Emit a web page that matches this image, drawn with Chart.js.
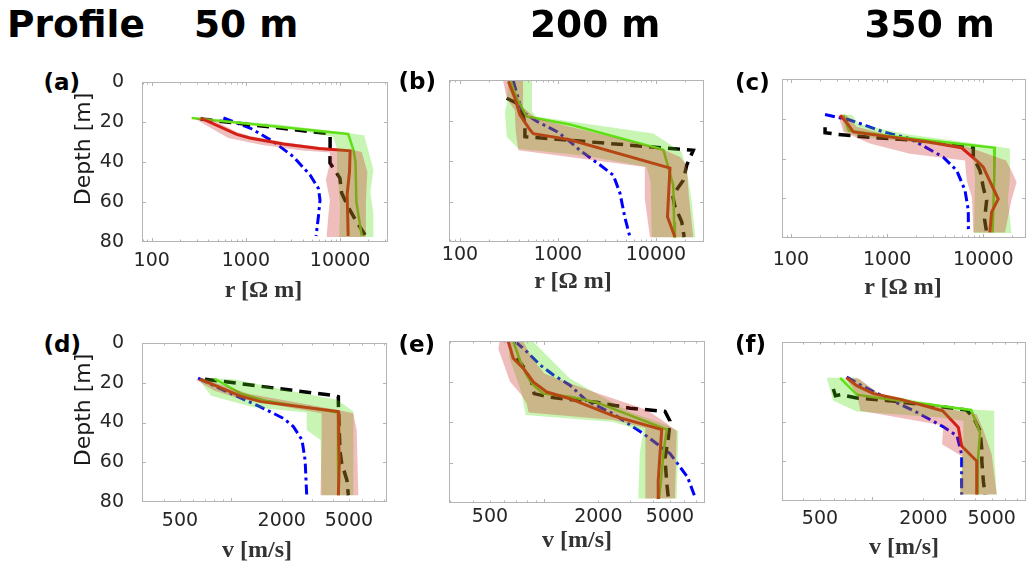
<!DOCTYPE html>
<html><head><meta charset="utf-8">
<script src="https://cdn.jsdelivr.net/npm/chart.js@4.4.1/dist/chart.umd.min.js"></script>
<style>
html,body{margin:0;padding:0;background:#fff}
body{width:1027px;height:566px;position:relative;overflow:hidden;font-family:"DejaVu Sans",sans-serif}
canvas{position:absolute}
.t{position:absolute;white-space:nowrap;line-height:1;margin:0}
</style></head><body>
<script>
// ===== tick labels =====
const rTicks = [100, 1000, 10000];
const vTicks = [500, 2000, 5000];
const depthTicks = [0, 20, 40, 60, 80];

// ===== data: [value, depth m] pairs =====
// (a) resistivity, 50 m
const aRed   = [[330,18],[800,26.2],[1100,28],[2500,31],[6000,33.2],[12800,34.4],[12600,45],[11900,56],[12200,77]];
const aGreen = [[266,18],[12200,26],[13900,34],[14600,40],[14900,60],[17000,77]];
const aBlack = [[330,18.5],[7500,25.8],[7840,26.5],[7840,33],[7820,40.5],[9960,48],[10400,55.5],[12200,62.5],[15000,70],[18500,76.5]];
const aBlue  = [[577,18],[1107,23],[1960,29.8],[3190,37.3],[4800,46.5],[5890,53.2],[6130,59],[5890,67.4],[5560,77]];
const aRedBand   = [[290,18.5],[650,28],[1500,31.5],[4000,34.2],[7800,35.2],[7800,40.5],[7070,49],[7800,59],[7500,67],[7200,77.5],[18800,77.5],[18800,60],[19500,45],[17000,35],[12800,33.8],[6000,32.5],[2500,30],[1100,27],[800,25],[400,17.8]];
const aGreenBand = [[250,17.6],[2000,21],[11000,25.3],[18000,26.6],[19900,34],[22600,44],[21000,55],[22600,66],[22600,77.5],[9800,77.5],[10000,62],[9500,48],[9300,34],[8500,27.5],[2500,22.5],[320,18.6]];

// (b) resistivity, 200 m
const bRed   = [[311,0.5],[364,9],[409,17.2],[518,24.6],[560,26.5],[1325,29.5],[13900,43.5],[13500,55],[13100,67.5],[15600,77.5]];
const bGreen = [[330,0.7],[380,9],[479,18],[1325,22],[11900,34.5],[13500,44],[15000,52],[15300,70],[15600,78]];
const bBlack = [[300,9],[380,11.5],[440,17],[460,22],[460,28],[24000,34.7],[20600,42],[19000,49.5],[14800,57],[15500,62],[18300,70],[19400,77.6]];
const bBlue  = [[350,0.5],[393,9],[427,15.5],[607,20.4],[970,25.4],[1200,28.7],[1675,34.7],[2690,42],[3670,47],[4300,56],[4800,67.7],[5430,77.6]];
const bRedBand   = [[276,0.5],[300,9],[363,15],[370,25],[394,34.7],[7700,43],[7700,59],[8700,77.6],[24000,77.6],[21500,56],[20600,42],[17600,38],[11900,34.3],[600,19],[450,14],[440,0.5]];
const bGreenBand = [[310,0.5],[300,12],[288,16],[300,28],[394,34],[2000,37.5],[8030,43],[8800,50],[9060,77.6],[25200,77.6],[23000,59],[20600,44.5],[18300,35.5],[9400,26.4],[600,18],[543,15.5],[543,0.5]];

// (c) resistivity, 350 m
const cRed   = [[324,18.2],[380,22],[445,26.6],[1000,29],[2500,31.5],[5950,34.6],[8500,41],[10000,44.4],[14300,60.4],[12200,67],[11700,77.2]];
const cGreen = [[350,18],[400,26],[1000,28.5],[13200,34.6],[13000,50],[12800,60],[12500,77.2]];
const cBlack = [[226,24.3],[226,27],[300,27.8],[612,29.2],[3000,31.5],[7870,34.5],[7870,39.3],[9230,46],[10000,54.5],[10830,61.2],[10300,70.5],[10830,77.2]];
const cBlue  = [[226,17.9],[400,20.5],[600,23.5],[910,26.6],[1727,30],[3836,39.3],[5280,46],[6450,56],[6980,66],[7000,77.2]];
const cRedBand   = [[310,18.2],[350,26.6],[660,32.5],[1727,37.6],[6450,41],[6710,51],[7600,59.5],[7870,77.2],[16800,77.2],[19600,61],[22200,52],[19600,46],[17200,41],[6710,34],[1000,28],[480,24],[380,18.2]];
const cGreenBand = [[340,18],[360,26],[500,29],[2000,32],[6500,35],[7800,38],[8200,50],[8000,77.5],[19600,77.5],[18000,61],[18900,50],[18900,35],[13000,33.8],[1500,27.5],[500,22.5],[430,18]];

// (d) velocity, 50 m
const dRed   = [[656,18.2],[1133,26.6],[1500,29.5],[4325,34.5],[4350,50],[4380,60],[4325,76.6]];
const dGreen = [[800,18],[1150,25.5],[1600,29],[4300,35],[4300,60],[4350,76.6]];
const dBlack = [[703,18.2],[4200,26.6],[4325,27],[4325,30],[4380,45],[4426,54.7],[4530,60.6],[4860,69],[4956,76.6]];
const dBlue  = [[640,17.7],[1035,26],[1485,32],[2044,37.9],[2342,42],[2636,48.8],[2750,59],[2810,76.6]];
const dRedBand   = [[620,18.5],[800,24],[1133,28],[1629,30.5],[3443,35.4],[3443,48.8],[3390,76.6],[5680,76.6],[5550,43.8],[5306,35.4],[4040,33.3],[1270,25.5],[672,17.7]];
const dGreenBand = [[642,18],[763,26.6],[1359,32.3],[2809,35],[2809,43.8],[3390,48.8],[3443,76.6],[5306,76.6],[5306,43.8],[5306,34.5],[4250,28.6],[2342,24.4],[1035,18.2],[787,17.7]];

// (e) velocity, 200 m
const eRed   = [[632,0.2],[673,8.5],[766,13.5],[870,20.2],[1033,25.2],[1390,28.5],[2422,37],[4500,43.7],[4400,56],[4300,69],[4300,78]];
const eGreen = [[673,0.2],[750,11.8],[800,16.8],[871,21.8],[989,26],[1390,27.5],[1958,30.3],[4800,43.7],[4600,55],[4450,70],[4350,78]];
const eBlack = [[705,8.5],[766,12.7],[850,20],[880,26],[1077,27.8],[1958,30.3],[3000,33.2],[4690,34.8],[5000,39.5],[4900,47.8],[4690,57.8],[4790,69.5],[4900,77.8]];
const eBlue  = [[689,0.2],[800,5.2],[948,11.8],[1125,16.8],[1390,21.8],[1721,29.5],[2422,36],[3560,45.8],[5000,55.6],[6260,67.2],[6880,77]];
const eRedBand   = [[565,0.2],[556,4],[600,12],[645,20],[750,26.8],[800,31],[820,35.3],[2422,39],[3650,43],[3650,60],[3650,77.8],[5330,77.8],[5450,44.5],[4590,39.5],[3700,34],[1875,25],[1400,21],[1000,16],[850,8],[766,0.2]];
const eGreenBand = [[632,0.2],[640,8],[700,18],[750,26],[790,36.5],[2422,40],[3560,44.5],[3400,55],[3335,77.8],[5450,77.8],[5560,44.5],[4790,41.5],[3000,35],[1958,26],[1390,18.5],[867,0.2]];

// (f) velocity, 350 m
const fRed   = [[715,18],[818,22],[1023,26],[1500,29],[2590,34.6],[3196,43],[3343,52.3],[4089,59.9],[4089,76.7]];
const fGreen = [[655,18],[818,26.5],[1023,27.8],[3800,34.2],[4276,45.5],[4150,60],[4150,76.7]];
const fBlack = [[598,23.6],[615,27],[660,26.5],[818,28.2],[1250,29.5],[2500,32.5],[3560,34.2],[3909,37.9],[4276,44.7],[4380,54],[4380,60],[4471,70],[4570,76.7]];
const fBlue  = [[715,17.7],[900,22.5],[1223,28.2],[1800,35],[2614,42.7],[3140,47.2],[3343,56.5],[3343,76.7]];
const fRedBand   = [[700,17.7],[818,26],[860,34.6],[2614,42],[2570,51.4],[3420,58],[3270,76.7],[5350,76.7],[5000,56.5],[4500,45],[4089,36.3],[2614,33.2],[1100,26],[846,18.5]];
const fGreenBand = [[547,18],[598,29.5],[818,35],[2500,38],[3420,39.6],[3420,49.7],[3270,76.7],[5350,76.7],[5170,56.5],[5170,34.6],[3420,33.7],[1100,26],[818,18]];

// ===== layout (plot boxes in page pixels) =====
const panels = [
  {series:[aRedBand,aGreenBand,aRed,aGreen,aBlack,aBlue], ticks:rTicks, box:[142,82,388,242], xr:[78.9,32300], yLab:true,  pad:7.6},
  {series:[bRedBand,bGreenBand,bRed,bGreen,bBlack,bBlue], ticks:rTicks, box:[449,80,704,242], xr:[77.3,30900], yLab:false, pad:1.8},
  {series:[cRedBand,cGreenBand,cRed,cGreen,cBlack,cBlue], ticks:rTicks, box:[782,79,1026,238], xr:[80.6,27800], yLab:false, pad:10.6},
  {series:[dRedBand,dGreenBand,dRed,dGreen,dBlack,dBlue], ticks:vTicks, box:[142,343,387,502], xr:[298,8390], yLab:true,  pad:7.3},
  {series:[eRedBand,eGreenBand,eRed,eGreen,eBlack,eBlue], ticks:vTicks, box:[449,341,705,503], xr:[296,7825], yLab:false, pad:3.1},
  {series:[fRedBand,fGreenBand,fRed,fGreen,fBlack,fBlue], ticks:vTicks, box:[782,342,1026,501], xr:[300.5,7920], yLab:false, pad:6.6}
];

const styles = [
  {fill:'shape', backgroundColor:'rgba(205,38,38,0.3)', borderColor:'rgba(0,0,0,0)', borderWidth:0},
  {fill:'shape', backgroundColor:'rgba(72,222,5,0.3)', borderColor:'rgba(0,0,0,0)', borderWidth:0},
  {borderColor:'rgb(215,30,18)', borderWidth:3},
  {borderColor:'rgb(105,225,30)', borderWidth:2.5},
  {borderColor:'#000000', borderWidth:3.5, borderDash:[12,7]},
  {borderColor:'#0000ff', borderWidth:3, borderDash:[10,4,3,4]}
];

const framePlugin = {
  id:'frame',
  afterDatasetsDraw(chart){
    const {ctx, chartArea:a, scales:{x, y}} = chart;
    ctx.save();
    ctx.strokeStyle = '#b4b4b4';
    ctx.lineWidth = 1;
    ctx.strokeRect(Math.round(a.left)+0.5, Math.round(a.top)+0.5, Math.round(a.right-a.left)-1, Math.round(a.bottom-a.top)-1);
    ctx.beginPath();
    for (let e = 1; e <= 5; e++) {
      for (let m = 1; m < 10; m++) {
        const v = m * Math.pow(10, e);
        if (v <= x.min || v >= x.max) continue;
        const px = Math.round(x.getPixelForValue(v)) + 0.5;
        const len = m === 1 ? 4 : 2.5;
        ctx.moveTo(px, a.top); ctx.lineTo(px, a.top + len);
        ctx.moveTo(px, a.bottom); ctx.lineTo(px, a.bottom - len);
      }
    }
    for (const d of depthTicks) {
      if (d <= 0 || d >= 80) continue;
      const py = Math.round(y.getPixelForValue(d)) + 0.5;
      ctx.moveTo(a.left, py); ctx.lineTo(a.left + 4, py);
      ctx.moveTo(a.right, py); ctx.lineTo(a.right - 4, py);
    }
    ctx.stroke();
    ctx.restore();
  }
};

Chart.defaults.font.family = '"DejaVu Sans", sans-serif';
const YW = 60, TP = 34, RP = 6, XH = 44;

for (const p of panels) {
  const [L, T, R, B] = p.box;
  const w = R - L + YW + RP, h = B - T + TP + XH;
  const cv = document.createElement('canvas');
  cv.width = w; cv.height = h;
  cv.style.left = (L - YW) + 'px'; cv.style.top = (T - TP) + 'px';
  cv.style.width = w + 'px'; cv.style.height = h + 'px';
  document.body.appendChild(cv);
  const datasets = p.series.map((arr, i) => Object.assign({
    data: arr.map(([v, d]) => ({x: v, y: d})),
    showLine: true, pointRadius: 0, pointHoverRadius: 0, tension: 0, fill: false
  }, styles[i]));
  new Chart(cv, {
    type: 'scatter',
    data: {datasets},
    options: {
      responsive: false, animation: false, events: [],
      layout: {padding: {left: 0, top: TP, right: RP, bottom: 0}},
      plugins: {legend: {display: false}, tooltip: {enabled: false}},
      scales: {
        x: {
          type: 'logarithmic', position: 'bottom', min: p.xr[0], max: p.xr[1],
          grid: {display: false, drawTicks: false}, border: {display: false},
          afterBuildTicks: s => { s.ticks = p.ticks.map(v => ({value: v, major: false})); },
          afterFit: s => { s.height = XH; },
          ticks: {autoSkip: false, maxRotation: 0, minRotation: 0, padding: p.pad, color: '#262626',
                  font: {size: 19, lineHeight: 1.2}, callback: v => String(v)}
        },
        y: {
          type: 'linear', reverse: true, min: 0, max: 80,
          grid: {display: false, drawTicks: false}, border: {display: false},
          afterBuildTicks: s => { s.ticks = depthTicks.map(v => ({value: v})); },
          afterFit: s => { s.width = YW; },
          ticks: {display: p.yLab, padding: 18, color: '#262626', font: {size: 19, lineHeight: 1.2},
                  callback: v => String(v)}
        }
      }
    },
    plugins: [framePlugin]
  });
}

// ===== text =====
function addText(str, x, base, size, family, weight, color, align, rotate) {
  const d = document.createElement('div');
  d.className = 't';
  d.textContent = str;
  d.style.fontFamily = family;
  d.style.fontSize = size + 'px';
  d.style.fontWeight = weight;
  d.style.color = color;
  const asc = family.indexOf('Serif') >= 0 ? 0.8375 : 0.846;
  if (rotate) {
    const cx = x - (asc - 0.5) * size;
    d.style.left = cx + 'px';
    d.style.top = base + 'px';
    d.style.transform = 'translate(-50%,-50%) rotate(-90deg)';
  } else {
    d.style.top = (base - asc * size) + 'px';
    d.style.left = x + 'px';
    if (align === 'center') d.style.transform = 'translateX(-50%)';
  }
  document.body.appendChild(d);
}
const SANS = '"DejaVu Sans", sans-serif';
const SERIF = '"Liberation Serif", "DejaVu Serif", serif';
addText('Profile', 7, 37.3, 37.5, SANS, 'bold', '#000');
addText('50 m', 194, 37.3, 37.5, SANS, 'bold', '#000');
addText('200 m', 530, 37.3, 37.5, SANS, 'bold', '#000');
addText('350 m', 864.5, 37.3, 37.5, SANS, 'bold', '#000');

addText('(a)', 43.5, 90.5, 23, SANS, 'bold', '#000');
addText('(b)', 398.5, 89.8, 23, SANS, 'bold', '#000');
addText('(c)', 735, 90.3, 23, SANS, 'bold', '#000');
addText('(d)', 43.5, 352, 23, SANS, 'bold', '#000');
addText('(e)', 398.5, 352, 23, SANS, 'bold', '#000');
addText('(f)', 735, 352, 23, SANS, 'bold', '#000');

addText('r [Ω m]', 263.5, 297, 24, SERIF, 'bold', '#333', 'center');
addText('r [Ω m]', 573, 288, 24, SERIF, 'bold', '#333', 'center');
addText('r [Ω m]', 903, 294, 24, SERIF, 'bold', '#333', 'center');
addText('v [m/s]', 257, 557, 24, SERIF, 'bold', '#333', 'center');
addText('v [m/s]', 577, 547, 24, SERIF, 'bold', '#333', 'center');
addText('v [m/s]', 904, 554, 24, SERIF, 'bold', '#333', 'center');

addText('Depth [m]', 90.7, 149, 22, SANS, 'normal', '#1a1a1a', null, true);
addText('Depth [m]', 90.7, 410, 22, SANS, 'normal', '#1a1a1a', null, true);
</script>
</body></html>
